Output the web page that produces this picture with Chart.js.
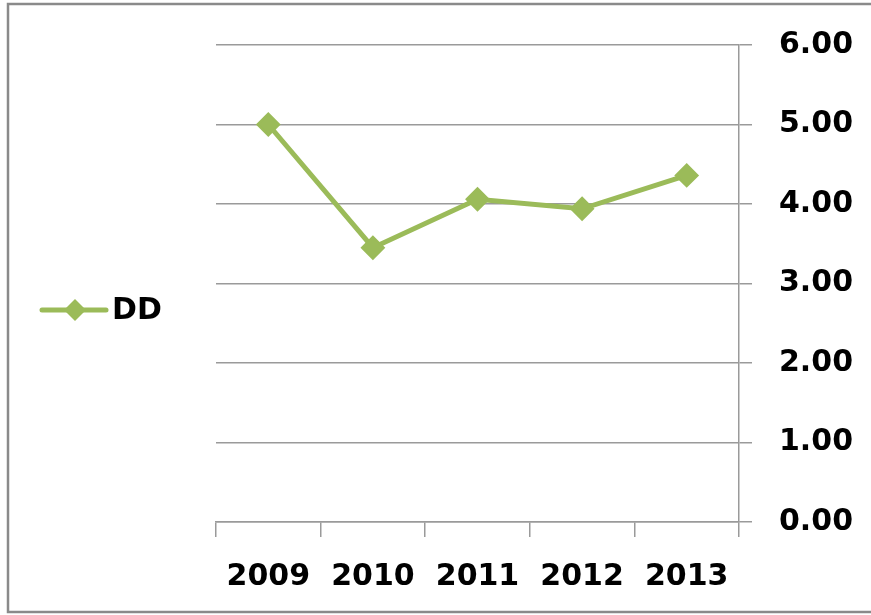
<!DOCTYPE html>
<html>
<head>
<meta charset="utf-8">
<script src="https://cdn.jsdelivr.net/npm/chart.js@4.4.1/dist/chart.umd.min.js"></script>
<style>
  html, body { margin: 0; padding: 0; background: #fff; }
  #wrap { position: relative; width: 871px; height: 615px; overflow: hidden; }
</style>
</head>
<body>
<div id="wrap"><canvas id="chart" width="871" height="615"></canvas></div>
<script>
// data
const years = ['2009', '2010', '2011', '2012', '2013'];
const ddValues = [5.00, 3.45, 4.06, 3.94, 4.36];
const seriesName = 'DD';
const yTicks = [0, 1, 2, 3, 4, 5, 6];

const green = '#9BBB59';
const gridGray = '#9a9a9a';
const fontMain = { family: '"DejaVu Sans", Verdana, sans-serif', size: 30, weight: 'bold' };

// outer frame (top, left, bottom) + legend on the left, drawn by hand
const framePlugin = {
  id: 'frameAndLegend',
  beforeDraw(chart) {
    const ctx = chart.ctx;
    ctx.save();
    ctx.fillStyle = '#fff';
    ctx.fillRect(0, 0, chart.width, chart.height);
    ctx.strokeStyle = '#8a8a8a';
    ctx.lineWidth = 2.5;
    ctx.beginPath();
    ctx.moveTo(chart.width, 4);
    ctx.lineTo(8, 4);
    ctx.lineTo(8, 612);
    ctx.lineTo(chart.width, 612);
    ctx.stroke();
    ctx.restore();
  },
  afterDraw(chart) {
    const ctx = chart.ctx;
    const y = 310;
    ctx.save();
    ctx.strokeStyle = green;
    ctx.lineWidth = 5;
    ctx.lineCap = 'round';
    ctx.beginPath();
    ctx.moveTo(42, y);
    ctx.lineTo(106, y);
    ctx.stroke();
    // diamond marker
    ctx.fillStyle = green;
    ctx.beginPath();
    ctx.moveTo(75 - 11, y);
    ctx.lineTo(75, y - 11);
    ctx.lineTo(75 + 11, y);
    ctx.lineTo(75, y + 11);
    ctx.closePath();
    ctx.fill();
    ctx.fillStyle = '#000';
    ctx.font = 'bold 30px "DejaVu Sans", Verdana, sans-serif';
    ctx.textBaseline = 'middle';
    ctx.textAlign = 'left';
    ctx.fillText(seriesName, 112, y + 1);
    ctx.restore();
  }
};

new Chart(document.getElementById('chart'), {
  type: 'line',
  data: {
    labels: years,
    datasets: [{
      label: seriesName,
      data: ddValues,
      borderColor: green,
      backgroundColor: green,
      borderWidth: 5,
      pointStyle: 'rectRot',
      pointRadius: 11,
      pointBorderWidth: 2,
      pointBackgroundColor: green,
      pointBorderColor: green,
      tension: 0,
      fill: false
    }]
  },
  options: {
    responsive: false,
    animation: false,
    devicePixelRatio: 1,
    layout: { padding: { left: 216, top: 43, right: 0, bottom: 0 } },
    plugins: {
      legend: { display: false },
      tooltip: { enabled: false }
    },
    scales: {
      x: {
        offset: true,
        grid: {
          offset: true,
          drawOnChartArea: false,
          drawTicks: true,
          tickLength: 15,
          color: gridGray,
          lineWidth: 1.5
        },
        border: { color: gridGray, width: 1.5 },
        ticks: { color: '#000', font: fontMain, padding: 22, maxRotation: 0 },
        afterFit(scale) { scale.height = 93; }
      },
      y: {
        position: 'right',
        min: 0,
        max: 6,
        afterBuildTicks(scale) { scale.ticks = yTicks.map(v => ({ value: v })); },
        grid: {
          color: gridGray,
          lineWidth: 1.5,
          tickLength: 13
        },
        border: { color: gridGray, width: 1.5 },
        ticks: {
          color: '#000',
          font: fontMain,
          padding: 27,
          callback: v => Number(v).toFixed(2)
        },
        afterFit(scale) { scale.width = 132; }
      }
    }
  },
  plugins: [framePlugin]
});
</script>
</body>
</html>
